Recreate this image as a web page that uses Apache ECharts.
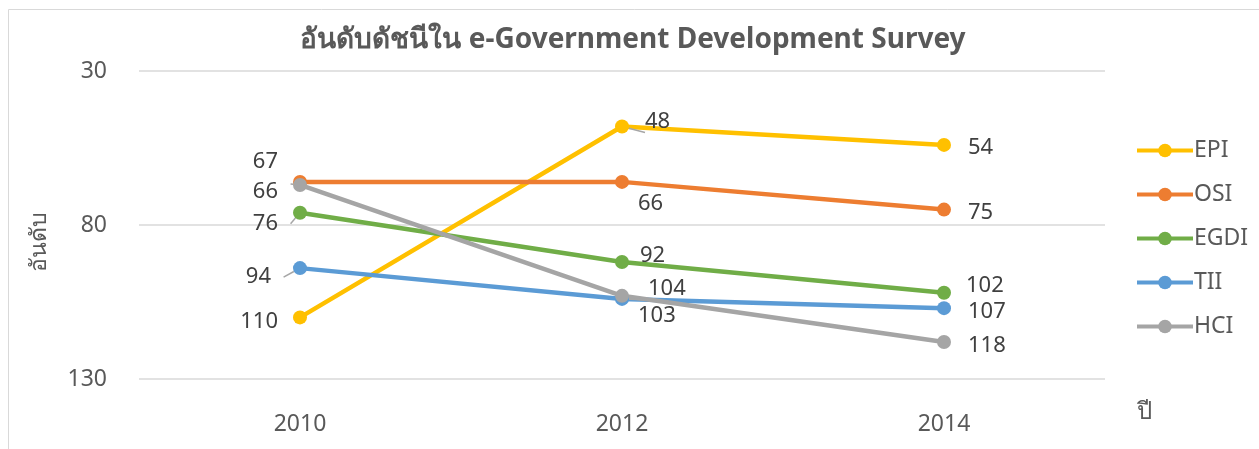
<!DOCTYPE html>
<html><head><meta charset="utf-8">
<script src="https://cdn.jsdelivr.net/npm/echarts@6/dist/echarts.min.js"></script>
<style>html,body{margin:0;padding:0;background:#fff}#c{width:1259px;height:449px}</style>
</head><body><div id="c"></div>
<script>
const categories = ['2010', '2012', '2014'];
const seriesNames = ['EPI', 'OSI', 'EGDI', 'TII', 'HCI'];
const EPI = [110, 48, 54];
const OSI = [66, 66, 75];
const EGDI = [76, 92, 102];
const TII = [94, 104, 107];
const HCI = [67, 103, 118];
const yTicks = [30, 80, 130];

const values = {EPI, OSI, EGDI, TII, HCI};
const colors = {EPI:'#FFC000', OSI:'#ED7D31', EGDI:'#70AD47', TII:'#5B9BD5', HCI:'#A5A5A5'};
// label placement per point: [position, dx, dy, leaderLine]
const labelPlace = {
  EPI:  [['left', -3, 4, 1], ['right', 4, -5, 1], ['right', 5, 3, 0]],
  OSI:  [['left', -3, 10, 0], ['right', -3, 22, 0], ['right', 5, 3, 0]],
  EGDI: [['left', -3, 11, 1], ['right', -1, -6, 0], ['right', 3, -7, 0]],
  TII:  [['left', -10, 9, 1], ['right', 7, -10, 1], ['right', 5, 4, 0]],
  HCI:  [['left', -3, -23, 1], ['right', -3, 20, 0], ['right', 5, 4, 0]]
};
const FONT = '"Noto Sans", "DejaVu Sans", sans-serif';
const TXT = '#595959';

const chart = echarts.init(document.getElementById('c'));
chart.setOption({
  animation: false,
  textStyle: {fontFamily: FONT},
  title: {
    text: 'อันดับดัชนีใน e-Government Development Survey',
    left: 628, top: 21, textAlign: 'center',
    textStyle: {fontSize: 28, fontWeight: 'bold', color: TXT, fontFamily: FONT}
  },
  graphic: [
    {type: 'rect', left: 6, top: 7, shape: {width: 1400, height: 600},
     style: {fill: 'none', stroke: '#d9d9d9', lineWidth: 1}, silent: true},
    {type: 'text', left: 1137, top: 400,
     style: {text: 'ปี', fill: TXT, font: '24px ' + FONT}}
  ],
  legend: {
    orient: 'vertical', left: 1130, top: 134,
    itemWidth: 56, itemHeight: 17, itemGap: 21,
    data: seriesNames,
    lineStyle: {width: 4},
    textStyle: {fontSize: 23, color: TXT, padding: [0, 0, 0, -4]}
  },
  grid: {left: 139, right: 154, top: 71, bottom: 70},
  xAxis: {
    type: 'category', data: categories, boundaryGap: true,
    axisLine: {show: false}, axisTick: {show: false},
    axisLabel: {fontSize: 23, color: TXT, margin: 34}
  },
  yAxis: {
    type: 'value', inverse: true, min: 30, max: 130, interval: 50,
    name: 'อันดับ', nameLocation: 'middle', nameRotate: 90, nameGap: 88,
    nameTextStyle: {fontSize: 23, color: TXT, padding: [0, 34, 0, 0]},
    axisLine: {show: false}, axisTick: {show: false},
    axisLabel: {fontSize: 23, color: TXT, margin: 32,
      formatter: v => yTicks.includes(v) ? String(v) : ''},
    splitLine: {lineStyle: {color: '#d9d9d9', width: 1.5}}
  },
  series: seriesNames.map(name => ({
    name, type: 'line',
    data: values[name].map((v, i) => {
      const p = labelPlace[name][i];
      return {
        value: v,
        label: {position: p[0], offset: [p[1], p[2]]},
        labelLine: {show: !!p[3], lineStyle: {color: '#a6a6a6', width: 1.5}}
      };
    }),
    color: colors[name],
    lineStyle: {width: 4.5, color: colors[name]},
    symbol: 'circle', symbolSize: 14,
    itemStyle: {color: colors[name]},
    label: {show: true, fontSize: 22, color: '#404040', distance: 12},
    labelLine: {show: true, lineStyle: {color: '#a6a6a6', width: 1.5}}
  }))
});
</script></body></html>
